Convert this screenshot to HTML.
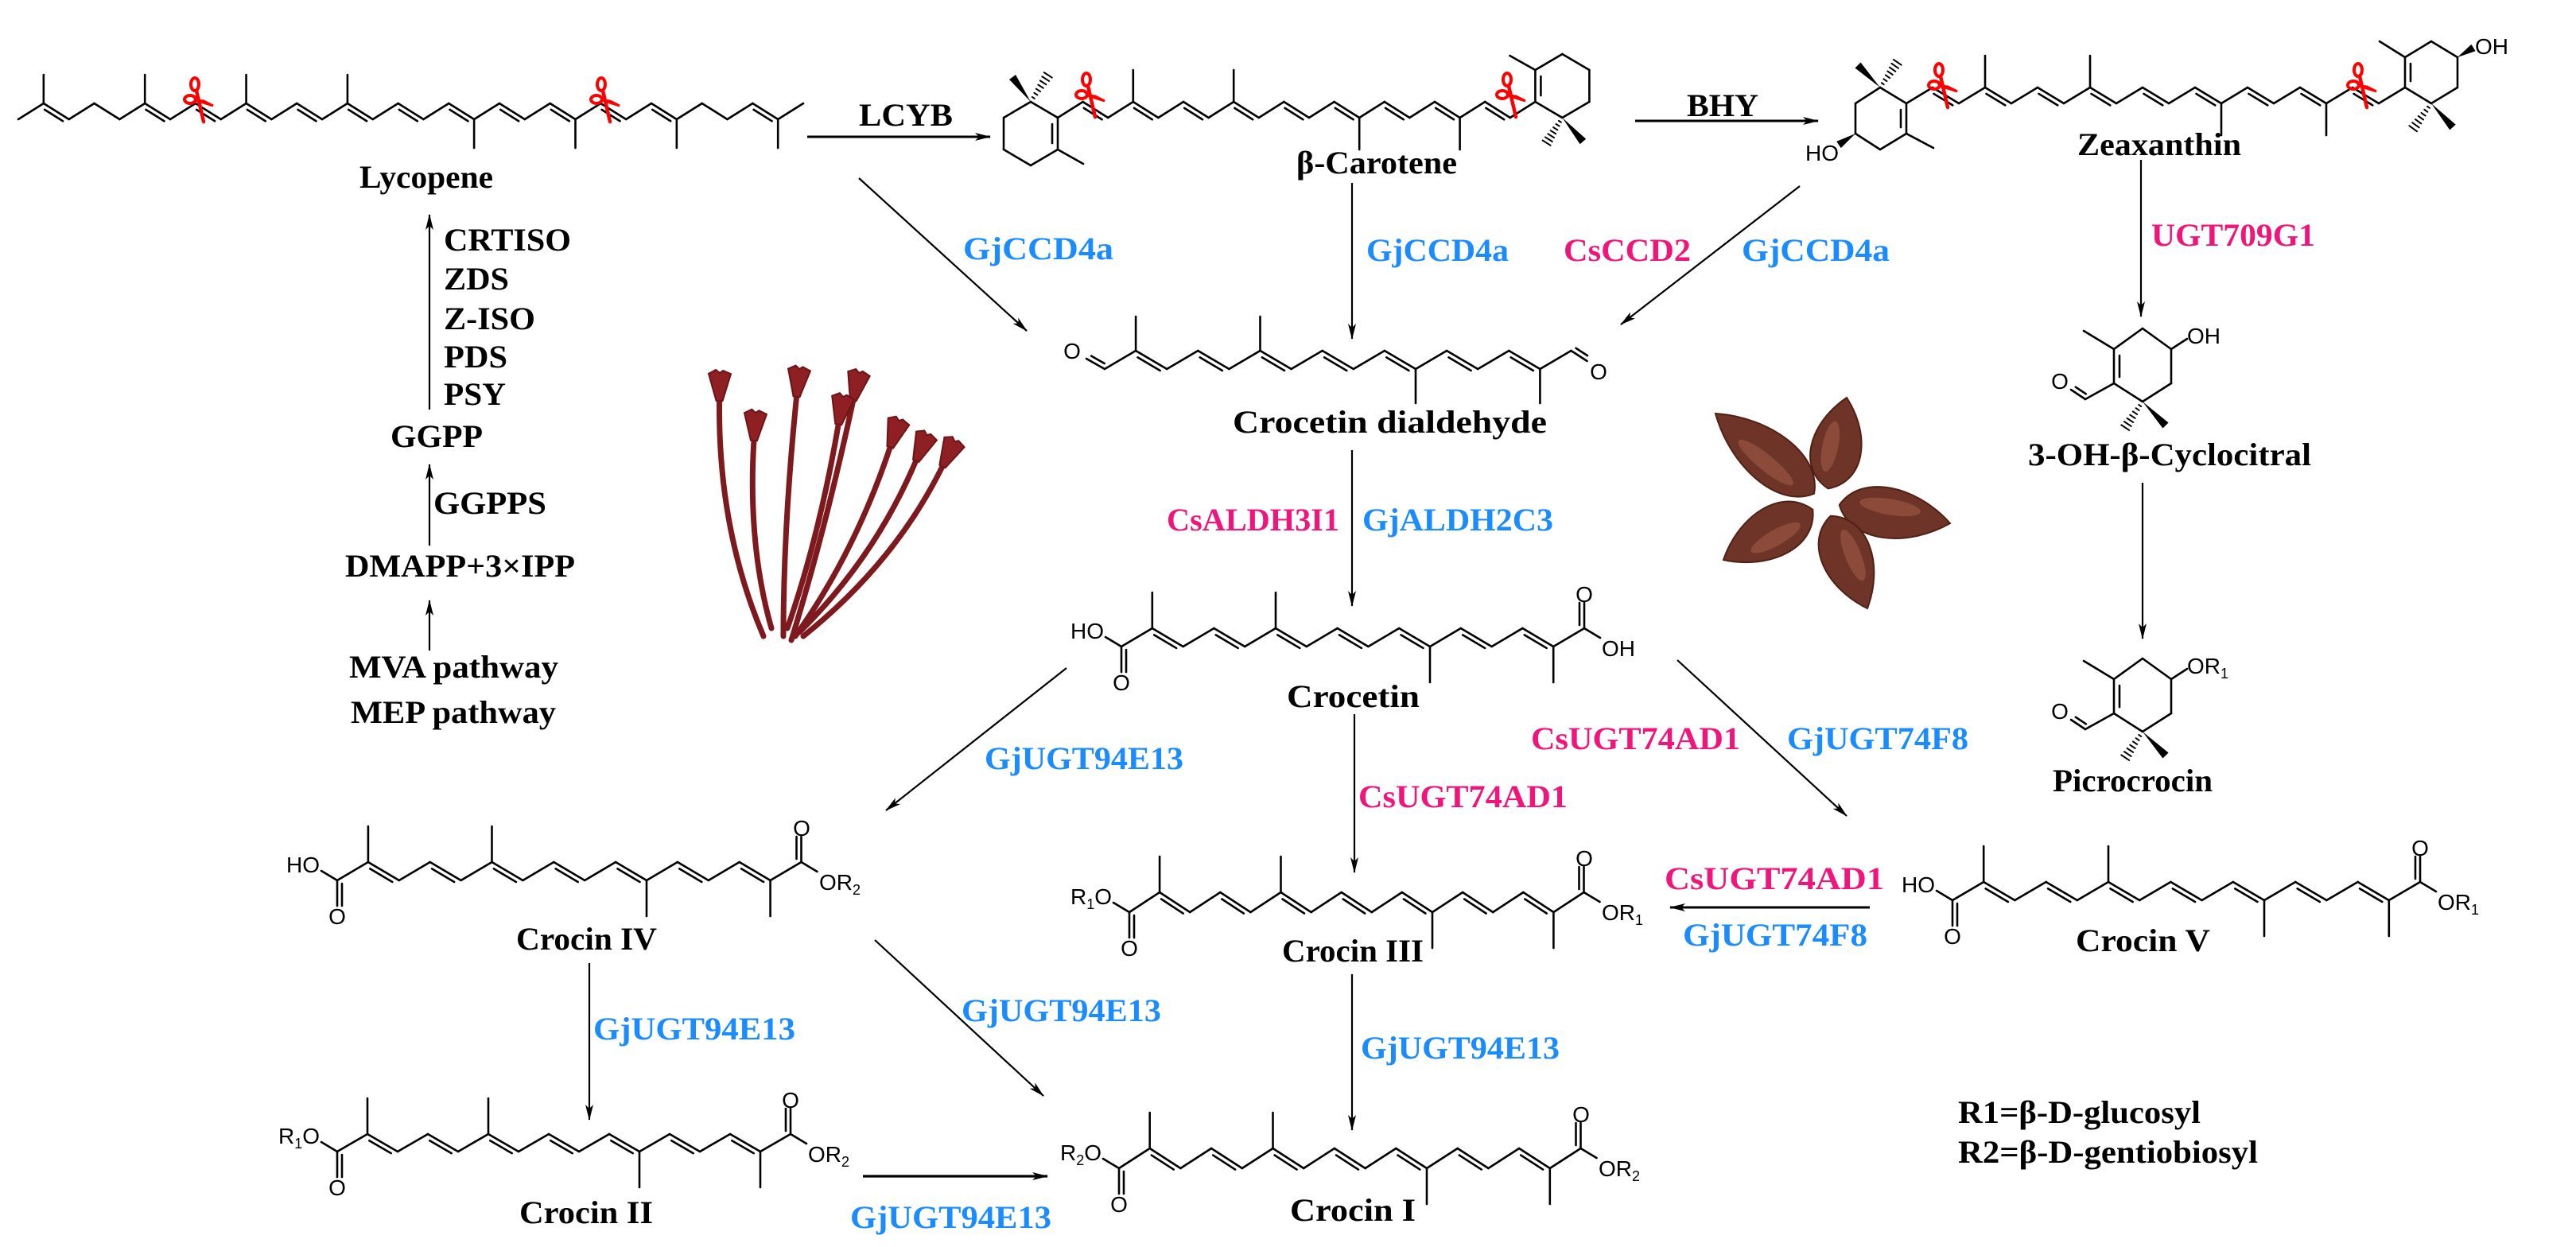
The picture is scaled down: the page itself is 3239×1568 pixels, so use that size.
<!DOCTYPE html>
<html><head><meta charset="utf-8">
<style>
html,body{margin:0;padding:0;background:#fff;}
svg{display:block;}
.b{font-family:"Liberation Serif",serif;font-weight:bold;font-size:40px;fill:#000;}
.bl{fill:#1a8cff;}
.pk{fill:#f0157a;}
.a{font-family:"Liberation Sans",sans-serif;font-size:28px;fill:#000;}
</style></head>
<body>
<svg id="s" width="3239" height="1568" viewBox="0 0 3239 1568" xmlns="http://www.w3.org/2000/svg">
<defs>
<marker id="ar" viewBox="0 0 20 10" markerWidth="20" markerHeight="10" markerUnits="userSpaceOnUse" refX="19" refY="5" orient="auto">
<path d="M0,0 L20,5 L0,10 L5,5 Z" fill="#000"/></marker>
</defs>
<rect width="3239" height="1568" fill="#fff"/>
<g id="g" stroke="#000" stroke-width="2.6" fill="none" stroke-linecap="round"></g>
<g id="ar2" stroke="#000" stroke-width="2.2" fill="none">
<line x1="1015" y1="172" x2="1245" y2="172" marker-end="url(#ar)" stroke-width="3"/>
<line x1="1080" y1="224" x2="1291" y2="416" marker-end="url(#ar)"/>
<line x1="540" y1="515" x2="540" y2="270" marker-end="url(#ar)"/>
<line x1="540" y1="686" x2="540" y2="584" marker-end="url(#ar)"/>
<line x1="540" y1="818" x2="540" y2="755" marker-end="url(#ar)"/>
<line x1="2056" y1="152" x2="2286" y2="152" marker-end="url(#ar)" stroke-width="3"/>
<line x1="1700" y1="230" x2="1700" y2="426" marker-end="url(#ar)"/>
<line x1="2263" y1="234" x2="2038" y2="408" marker-end="url(#ar)"/>
<line x1="2692" y1="201" x2="2692" y2="398" marker-end="url(#ar)"/>
<line x1="2694" y1="607" x2="2694" y2="803" marker-end="url(#ar)"/>
<line x1="1700" y1="566" x2="1700" y2="762" marker-end="url(#ar)"/>
<line x1="1341" y1="840" x2="1114" y2="1019" marker-end="url(#ar)"/>
<line x1="1703" y1="898" x2="1703" y2="1097" marker-end="url(#ar)"/>
<line x1="2109" y1="830" x2="2322" y2="1026" marker-end="url(#ar)"/>
<line x1="2351" y1="1141" x2="2100" y2="1141" marker-end="url(#ar)" stroke-width="3"/>
<line x1="1700" y1="1225" x2="1700" y2="1421" marker-end="url(#ar)"/>
<line x1="741" y1="1211" x2="741" y2="1408" marker-end="url(#ar)"/>
<line x1="1100" y1="1182" x2="1312" y2="1378" marker-end="url(#ar)"/>
<line x1="1085" y1="1479" x2="1317" y2="1479" marker-end="url(#ar)" stroke-width="3.2"/>
</g>
<g id="pics"></g>

<text class="b" x="452" y="236" textLength="168" lengthAdjust="spacingAndGlyphs">Lycopene</text>
<text class="b" x="1080" y="158" textLength="118" lengthAdjust="spacingAndGlyphs">LCYB</text>
<text class="b bl" x="1211" y="326" textLength="189" lengthAdjust="spacingAndGlyphs">GjCCD4a</text>
<text class="b" x="558" y="315" textLength="160" lengthAdjust="spacingAndGlyphs">CRTISO</text>
<text class="b" x="558" y="364" textLength="82" lengthAdjust="spacingAndGlyphs">ZDS</text>
<text class="b" x="558" y="414" textLength="115" lengthAdjust="spacingAndGlyphs">Z-ISO</text>
<text class="b" x="558" y="462" textLength="80" lengthAdjust="spacingAndGlyphs">PDS</text>
<text class="b" x="558" y="509" textLength="78" lengthAdjust="spacingAndGlyphs">PSY</text>
<text class="b" x="491" y="562" textLength="116" lengthAdjust="spacingAndGlyphs">GGPP</text>
<text class="b" x="545" y="646" textLength="142" lengthAdjust="spacingAndGlyphs">GGPPS</text>
<text class="b" x="434" y="725" textLength="289" lengthAdjust="spacingAndGlyphs">DMAPP+3×IPP</text>
<text class="b" x="439" y="852" textLength="263" lengthAdjust="spacingAndGlyphs">MVA pathway</text>
<text class="b" x="441" y="909" textLength="258" lengthAdjust="spacingAndGlyphs">MEP pathway</text>
<text class="b" x="1630" y="218" textLength="202" lengthAdjust="spacingAndGlyphs">β-Carotene</text>
<text class="b" x="2121" y="146" textLength="90" lengthAdjust="spacingAndGlyphs">BHY</text>
<text class="b" x="2612" y="195" textLength="206" lengthAdjust="spacingAndGlyphs">Zeaxanthin</text>
<text class="b bl" x="1718" y="328" textLength="179" lengthAdjust="spacingAndGlyphs">GjCCD4a</text>
<text class="b pk" x="1966" y="328" textLength="160" lengthAdjust="spacingAndGlyphs">CsCCD2</text>
<text class="b bl" x="2190" y="328" textLength="186" lengthAdjust="spacingAndGlyphs">GjCCD4a</text>
<text class="b pk" x="2705" y="309" textLength="206" lengthAdjust="spacingAndGlyphs">UGT709G1</text>
<text class="b" x="1550" y="544" textLength="395" lengthAdjust="spacingAndGlyphs">Crocetin dialdehyde</text>
<text class="b" x="2550" y="585" textLength="356" lengthAdjust="spacingAndGlyphs">3-OH-β-Cyclocitral</text>
<text class="b pk" x="1467" y="667" textLength="217" lengthAdjust="spacingAndGlyphs">CsALDH3I1</text>
<text class="b bl" x="1713" y="667" textLength="240" lengthAdjust="spacingAndGlyphs">GjALDH2C3</text>
<text class="b" x="1618" y="889" textLength="167" lengthAdjust="spacingAndGlyphs">Crocetin</text>
<text class="b" x="2581" y="995" textLength="201" lengthAdjust="spacingAndGlyphs">Picrocrocin</text>
<text class="b bl" x="1238" y="967" textLength="250" lengthAdjust="spacingAndGlyphs">GjUGT94E13</text>
<text class="b pk" x="1708" y="1015" textLength="263" lengthAdjust="spacingAndGlyphs">CsUGT74AD1</text>
<text class="b pk" x="1925" y="942" textLength="263" lengthAdjust="spacingAndGlyphs">CsUGT74AD1</text>
<text class="b bl" x="2247" y="942" textLength="228" lengthAdjust="spacingAndGlyphs">GjUGT74F8</text>
<text class="b pk" x="2093" y="1118" textLength="276" lengthAdjust="spacingAndGlyphs">CsUGT74AD1</text>
<text class="b bl" x="2116" y="1189" textLength="232" lengthAdjust="spacingAndGlyphs">GjUGT74F8</text>
<text class="b" x="2610" y="1196" textLength="169" lengthAdjust="spacingAndGlyphs">Crocin V</text>
<text class="b" x="649" y="1194" textLength="177" lengthAdjust="spacingAndGlyphs">Crocin IV</text>
<text class="b" x="1612" y="1209" textLength="178" lengthAdjust="spacingAndGlyphs">Crocin III</text>
<text class="b bl" x="746" y="1307" textLength="254" lengthAdjust="spacingAndGlyphs">GjUGT94E13</text>
<text class="b bl" x="1209" y="1284" textLength="251" lengthAdjust="spacingAndGlyphs">GjUGT94E13</text>
<text class="b bl" x="1711" y="1331" textLength="250" lengthAdjust="spacingAndGlyphs">GjUGT94E13</text>
<text class="b bl" x="1069" y="1544" textLength="253" lengthAdjust="spacingAndGlyphs">GjUGT94E13</text>
<text class="b" x="653" y="1538" textLength="168" lengthAdjust="spacingAndGlyphs">Crocin II</text>
<text class="b" x="1622" y="1535" textLength="158" lengthAdjust="spacingAndGlyphs">Crocin I</text>
<text class="b" x="2462" y="1412" textLength="305" lengthAdjust="spacingAndGlyphs">R1=β-D-glucosyl</text>
<text class="b" x="2462" y="1462" textLength="377" lengthAdjust="spacingAndGlyphs">R2=β-D-gentiobiosyl</text>

<g class="a">
<text x="1348" y="451" text-anchor="middle">O</text>
<text x="2010" y="477" text-anchor="middle">O</text>
<text x="2312" y="202" text-anchor="end">HO</text>
<text x="3112" y="68">OH</text>
<text x="2750" y="432">OH</text>
<text x="2590" y="489" text-anchor="middle">O</text>
<text x="2750" y="847">OR<tspan font-size="18" dy="6">1</tspan></text>
<text x="2590" y="904" text-anchor="middle">O</text>
<text x="1388" y="803" text-anchor="end">HO</text>
<text x="1410" y="868" text-anchor="middle">O</text>
<text x="1992" y="757" text-anchor="middle">O</text>
<text x="2014" y="825">OH</text>
<text x="2433" y="1122" text-anchor="end">HO</text>
<text x="2455" y="1187" text-anchor="middle">O</text>
<text x="3043" y="1076" text-anchor="middle">O</text>
<text x="3065" y="1144">OR<tspan font-size="18" dy="6">1</tspan></text>
<text x="1398" y="1137" text-anchor="end">R<tspan font-size="18" dy="6">1</tspan><tspan dy="-6">O</tspan></text>
<text x="1420" y="1202" text-anchor="middle">O</text>
<text x="1992" y="1089" text-anchor="middle">O</text>
<text x="2014" y="1157">OR<tspan font-size="18" dy="6">1</tspan></text>
<text x="1385" y="1459" text-anchor="end">R<tspan font-size="18" dy="6">2</tspan><tspan dy="-6">O</tspan></text>
<text x="1407" y="1524" text-anchor="middle">O</text>
<text x="1988" y="1411" text-anchor="middle">O</text>
<text x="2010" y="1479">OR<tspan font-size="18" dy="6">2</tspan></text>
<text x="402" y="1097" text-anchor="end">HO</text>
<text x="424" y="1162" text-anchor="middle">O</text>
<text x="1008" y="1051" text-anchor="middle">O</text>
<text x="1030" y="1119">OR<tspan font-size="18" dy="6">2</tspan></text>
<text x="402" y="1438" text-anchor="end">R<tspan font-size="18" dy="6">1</tspan><tspan dy="-6">O</tspan></text>
<text x="424" y="1503" text-anchor="middle">O</text>
<text x="994" y="1393" text-anchor="middle">O</text>
<text x="1016" y="1461">OR<tspan font-size="18" dy="6">2</tspan></text>
</g>
</svg>
<script>
var NS="http://www.w3.org/2000/svg";
var G=document.getElementById('g');
function el(t,a,p){var e=document.createElementNS(NS,t);for(var k in a)e.setAttribute(k,a[k]);(p||G).appendChild(e);return e;}
function L(x1,y1,x2,y2){el('line',{x1:x1,y1:y1,x2:x2,y2:y2});}
function D(x1,y1,x2,y2,side){L(x1,y1,x2,y2);var dx=x2-x1,dy=y2-y1,l=Math.hypot(dx,dy);var nx=-dy/l,ny=dx/l;
 if(side===undefined){if(ny<0){nx=-nx;ny=-ny;}}else{nx*=side;ny*=side;}
 var o=6,s=0.14;L(x1+dx*s+nx*o,y1+dy*s+ny*o,x2-dx*s+nx*o,y2-dy*s+ny*o);}
function chain(x0,step,yb,yt,n,dbs,mets){var p=[];for(var i=0;i<n;i++)p.push([x0+i*step,(i%2==0)?yb:yt]);
 for(var i=0;i<n-1;i++){if(dbs.indexOf(i)>=0)D(p[i][0],p[i][1],p[i+1][0],p[i+1][1]);else L(p[i][0],p[i][1],p[i+1][0],p[i+1][1]);}
 for(var k in mets){var q=p[k];L(q[0],q[1],q[0],q[1]+mets[k]);}return p;}
function wedge(x1,y1,x2,y2){var dx=x2-x1,dy=y2-y1,l=Math.hypot(dx,dy),nx=-dy/l*5,ny=dx/l*5;
 el('path',{d:'M'+x1+','+y1+' L'+(x2+nx)+','+(y2+ny)+' L'+(x2-nx)+','+(y2-ny)+' Z',fill:'#000',stroke:'none'});}
function hash(x1,y1,x2,y2){var dx=x2-x1,dy=y2-y1,l=Math.hypot(dx,dy),nx=-dy/l,ny=dx/l;
 for(var t=0.15;t<=1.01;t+=0.14){var w=1+5*t,cx=x1+dx*t,cy=y1+dy*t;el('line',{x1:cx+nx*w,y1:cy+ny*w,x2:cx-nx*w,y2:cy-ny*w,'stroke-width':2});}}
function ringPath(P){for(var i=0;i<6;i++){var a=P[i],b=P[(i+1)%6];L(a[0],a[1],b[0],b[1]);}}
function sc(cx,cy){var r='#ff0000';
 el('ellipse',{cx:cx-5,cy:cy-17,rx:5,ry:8,stroke:r,'stroke-width':4});
 el('ellipse',{cx:cx-11,cy:cy+2,rx:7,ry:5,stroke:r,'stroke-width':4});
 el('line',{x1:cx-3,y1:cy-9,x2:cx+6,y2:cy+30,stroke:r,'stroke-width':4.5});
 el('path',{d:'M'+(cx-4)+','+(cy+3)+' L'+(cx+18)+','+(cy+10)+' L'+(cx+6)+','+(cy+4)+'Z',stroke:r,fill:r,'stroke-width':3});}

chain(23,31.84,150,130,32,[1,5,7,9,11,13,15,17,19,21,23,25,29],{1:-36,5:-36,9:-36,13:-36,18:36,22:36,26:36,30:36});
sc(250,123);sc(761,123);

chain(1330,31.6,148,128,20,[1,3,5,7,9,11,13,15,17],{3:-40,7:-40,12:40,16:40});
var R1=[[1330,148],[1296,128],[1262,148],[1262,188],[1296,208],[1330,188]];ringPath(R1);
L(1323,180,1323,156);L(1330,188,1362,206);wedge(1296,128,1273,97);hash(1296,128,1318,94);
var cx6=1330+19*31.6;var R2=[[cx6,128],[cx6,88],[cx6+34,68],[cx6+68,88],[cx6+68,128],[cx6+34,148]];ringPath(R2);
L(cx6+7,96,cx6+7,120);L(cx6,88,cx6-32,70);wedge(cx6+34,148,cx6+60,178);hash(cx6+34,148,cx6+14,180);
sc(1371,117);sc(1900,117);

chain(2397,33,130,110,20,[1,3,5,7,9,11,13,15,17],{3:-40,7:-40,12:40,16:40});
ringPath([[2397,130],[2364,110],[2333,130],[2333,168],[2364,188],[2397,168]]);
L(2390,138,2390,160);L(2397,168,2431,186);wedge(2364,110,2336,82);hash(2364,110,2386,78);wedge(2333,168,2312,182);
ringPath([[3024,110],[3024,72],[3057,52],[3090,72],[3090,110],[3057,130]]);
L(3031,80,3031,102);L(3024,72,2992,52);wedge(3057,130,3084,160);hash(3057,130,3034,162);wedge(3090,72,3110,60);
sc(2443,105);sc(2970,105);

function cyc(dy){var P=[[2658,439+dy],[2694,413+dy],[2730,439+dy],[2730,482+dy],[2694,505+dy],[2658,482+dy]];ringPath(P);
 L(2665,447+dy,2665,474+dy);L(2658,439+dy,2620,416+dy);L(2730,439+dy,2750,426+dy);
 wedge(2694,505+dy,2723,535+dy);hash(2694,505+dy,2672,538+dy);L(2658,482+dy,2622,502+dy);D(2622,502+dy,2604,490+dy,1);}
cyc(0);cyc(415);

var pd=chain(1389,39.1,464,441,16,[1,3,5,7,9,11,13],{1:-43,5:-43,10:43,14:43});
D(1389,464,1366,451,1);var q=pd[15];D(q[0],q[1],q[0]+20,q[1]+13,-1);

function cro(x0,yb,step,amp){var p=chain(x0,step,yb,yb-amp,16,[1,3,5,7,9,11,13],{1:-45,5:-45,10:45,14:45});
 L(x0,yb,x0,yb+32);L(x0+6,yb+4,x0+6,yb+32);L(x0,yb,x0-20,yb-12);
 var q=p[15];L(q[0],q[1],q[0],q[1]-32);L(q[0]-6,q[1]-4,q[0]-6,q[1]-32);L(q[0],q[1],q[0]+20,q[1]+12);}
cro(1410,813,38.8,23);cro(2455,1132,39.2,23);cro(1420,1147,38.1,25);cro(1407,1469,38.7,25);cro(424,1107,38.9,23);cro(424,1448,38,22);

/* saffron: strands with flared funnel tips */
var PG=document.getElementById('pics');
var strands=[[960,800,905,470,-30],[985,800,1005,465,-10],[995,805,1080,470,0],[1000,800,1130,530,10],[1005,795,1165,548,15],[1010,800,1200,556,20],[970,790,950,520,-20],[990,790,1060,500,5]];
strands.forEach(function(s){var bx=s[0],by=s[1],tx=s[2],ty=s[3];
 var cxp=(bx+tx)/2+s[4],cyp=(by+ty)/2+30;
 var ux=tx-cxp,uy=ty-cyp,ul=Math.hypot(ux,uy);ux/=ul;uy/=ul;var nx=-uy,ny=ux;
 var ex=tx-ux*34,ey=ty-uy*34;
 el('path',{d:'M'+bx+','+by+' Q'+cxp+','+cyp+' '+ex+','+ey,stroke:'#7e1a1e','stroke-width':7,fill:'none','stroke-linecap':'round'},PG);
 var p1=[ex+nx*4,ey+ny*4],p2=[ex-nx*4,ey-ny*4],p3=[tx-nx*14,ty-ny*14],p4=[tx+nx*14,ty+ny*14];
 el('path',{d:'M'+p1+' L'+p4+' L'+(tx+ux*4+nx*4)+','+(ty+uy*4+ny*4)+' L'+(tx+ux*1)+','+(ty+uy*1)+' L'+(tx+ux*5-nx*5)+','+(ty+uy*5-ny*5)+' L'+p3+' L'+p2+' Z',fill:'#8e1f22',stroke:'#6e1417','stroke-width':2},PG);});

/* gardenia fruit */
var c=[2295,632];var pods=[[2322,500],[2157,520],[2452,658],[2348,765],[2167,704]];
pods.forEach(function(t){var dx=t[0]-c[0],dy=t[1]-c[1],Lh=Math.hypot(dx,dy),a=Math.atan2(dy,dx)*180/Math.PI;
 var m=(18+Lh)/2,cx=c[0]+dx/Lh*m,cy=c[1]+dy/Lh*m,rx=(Lh-18)/2;
 el('path',{d:'M'+(-rx)+',0 C'+(-rx*0.7)+',-44 '+(rx*0.3)+',-40 '+rx+',0 C'+(rx*0.3)+',40 '+(-rx*0.7)+',44 '+(-rx)+',0 Z',
  transform:'translate('+cx+','+cy+') rotate('+a+')',fill:'#6f3428',stroke:'#4f2016','stroke-width':2},PG);
 el('ellipse',{cx:-rx*0.1,cy:-8,rx:rx*0.55,ry:10,transform:'translate('+cx+','+cy+') rotate('+a+')',fill:'#8c4a3a',stroke:'none'},PG);});
</script>
</body></html>
